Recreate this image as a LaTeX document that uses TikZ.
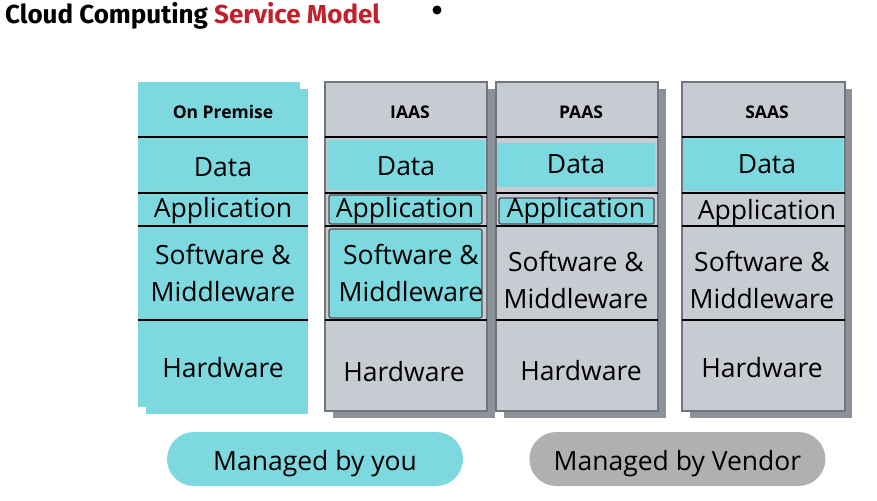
\documentclass[tikz,border=0pt]{standalone}
\usepackage{fontspec}
\setmainfont{Open Sans}
\newfontfamily\titlefont{Fira Sans}
\usetikzlibrary{positioning}
\definecolor{cyanbox}{HTML}{7DD8DF}
\definecolor{grayfill}{HTML}{C8CBD1}
\definecolor{grayedge}{HTML}{70767D}
\definecolor{grayshadow}{HTML}{8C929A}
\definecolor{pillgray}{HTML}{B0B0B0}
\definecolor{titlered}{HTML}{C2202B}
\tikzset{
  x=1pt, y=-1pt,
  premise/.style={fill=cyanbox},
  stack/.style={fill=grayfill, draw=grayedge, line width=2pt},
  shade/.style={fill=grayshadow},
  layer/.style={fill=cyanbox},
  marked/.style={fill=cyanbox, draw=black!70, line width=1.2pt, rounded corners=2pt},
  divider/.style={line width=2.6pt, black},
  head/.style={font=\fontsize{17.5}{20}\selectfont\bfseries},
  label/.style={font=\fontsize{26.5}{37}\selectfont, align=center, inner sep=0pt},
  pill/.style={rounded corners=27pt, minimum width=296pt, minimum height=54pt,
    text height=23pt, text depth=0pt, font=\fontsize{26.5}{30}\selectfont},
}
\begin{document}
\begin{tikzpicture}
		\useasboundingbox (0,0) rectangle (877,500);

		% title
		\node[anchor=base west, inner sep=0pt, font=\titlefont\fontsize{26}{30}\selectfont\bfseries]
			(title) at (5,24) {Cloud Computing \textcolor{titlered}{Service Model}};
		\fill (437,10) circle (4.5);

		% column backgrounds
		\fill[premise] (146,89) rectangle (308,414);
		\fill[premise] (138,82) rectangle (300,407);
		\fill[shade] (333,89) rectangle (495,418);
		\draw[stack] (325,82) rectangle (487,411);
		\fill[shade] (504,89) rectangle (666,418);
		\draw[stack] (496,82) rectangle (658,411);
		\fill[shade] (690,89) rectangle (852,418);
		\draw[stack] (682,82) rectangle (845,411);

		% managed layers
		\fill[layer] (327,140) rectangle (485,190);
		\draw[marked] (329,195) rectangle (482,224);
		\draw[marked] (329,229) rectangle (482,318);
		\fill[layer] (497,143) rectangle (655,187);
		\draw[marked] (499,198) rectangle (654,224);
		\fill[layer] (683,138) rectangle (843,191);

		% dividers
		\draw[divider] (138,137) -- (308,137) (138,193) -- (308,193)
			(138,226) -- (308,226) (138,320) -- (308,320);
		\draw[divider] (325,137) -- (487,137) (325,193) -- (487,193)
			(325,226) -- (487,226) (325,320) -- (487,320);
		\draw[divider] (496,137) -- (658,137) (496,193) -- (658,193)
			(496,226) -- (658,226) (496,320) -- (658,320);
		\draw[divider] (682,137) -- (845,137) (682,193) -- (845,193)
			(682,226) -- (845,226) (682,320) -- (845,320);

		% on premise
		\node[head] (prem) at (223,112) {On Premise};
		\node[label] (premdata) at (223,167) {Data};
		\node[label] (premapp) at (223,211) {Application};
		\node[label] (premsw) at (223,273) {Software \&\\Middleware};
		\node[label] (premhw) at (223,368) {Hardware};

		% iaas
		\node[head] (iaas) at (410,112) {IAAS};
		\node[label] (iaasdata) at (406,166) {Data};
		\node[label] (iaasapp) at (405,211) {Application};
		\node[label] (iaassw) at (411,273) {Software \&\\Middleware};
		\node[label] (iaashw) at (404,372) {Hardware};

		% paas
		\node[head] (paas) at (581,112) {PAAS};
		\node[label] (paasdata) at (576,164) {Data};
		\node[label] (paasapp) at (576,211) {Application};
		\node[label] (paassw) at (576,280) {Software \&\\Middleware};
		\node[label] (paashw) at (581,371) {Hardware};

		% saas
		\node[head] (saas) at (767,112) {SAAS};
		\node[label] (saasdata) at (767,164) {Data};
		\node[label] (saasapp) at (767,213) {Application};
		\node[label] (saassw) at (762,280) {Software \&\\Middleware};
		\node[label] (saashw) at (762,368) {Hardware};

		% legend
		\node[pill, fill=cyanbox] (you) at (315,459) {Managed by you};
		\node[pill, fill=pillgray, right=66pt of you] (vendor) {Managed by Vendor};

	\end{tikzpicture}
\end{document}
